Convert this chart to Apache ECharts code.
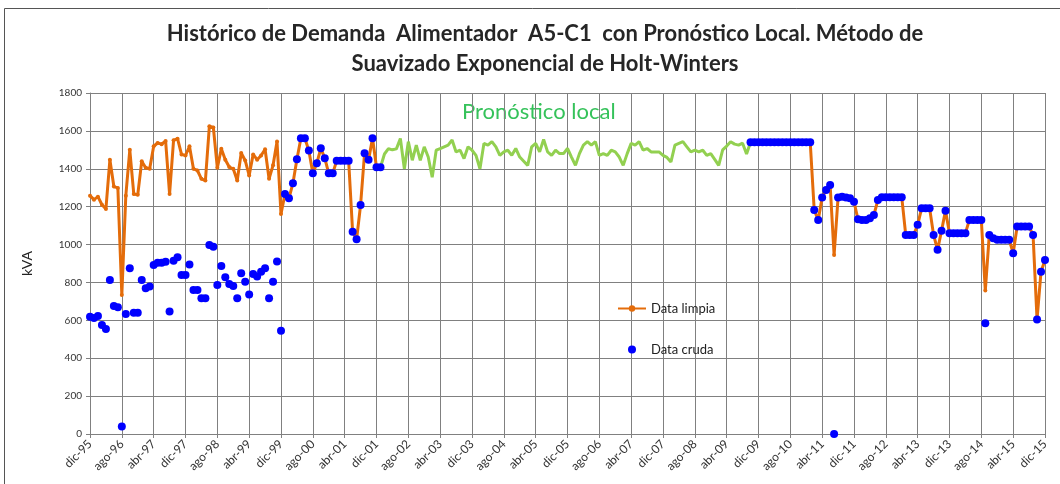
<!DOCTYPE html>
<html>
<head>
<meta charset="utf-8">
<title>Demanda Alimentador A5-C1</title>
<script src="https://cdn.jsdelivr.net/npm/echarts@6/dist/echarts.min.js"></script>
<style>
  html, body { margin: 0; padding: 0; background: #fff; }
  #main { width: 1060px; height: 484px; }
</style>
</head>
<body>
<div id="main"></div>
<script>
  // datos mensuales dic-95 .. dic-15 (kVA)
  var meses = ['ene', 'feb', 'mar', 'abr', 'may', 'jun', 'jul', 'ago', 'sep', 'oct', 'nov', 'dic'];

  // data limpia dic-95 .. dic-01 (indices 0..73)
  var limpiaA = [1258, 1237, 1253, 1210, 1188, 1448, 1306, 1299, 734, 1258, 1500, 1267, 1263, 1440, 1405, 1400,
    1519, 1536, 1530, 1547, 1267, 1550, 1559, 1476, 1470, 1519, 1400, 1391, 1347, 1338, 1625, 1618,
    1405, 1506, 1448, 1409, 1400, 1338, 1483, 1444, 1365, 1476, 1448, 1470, 1503, 1347, 1418, 1544,
    1161, 1267, 1244, 1324, 1450, 1561, 1561, 1496, 1376, 1429, 1508, 1456, 1376, 1376, 1443, 1443,
    1443, 1443, 1068, 1028, 1209, 1482, 1447, 1561, 1408, 1408];

  // data cruda dic-95 .. dic-01 (indices 0..73)
  var crudaA = [619, 612, 623, 575, 554, 813, 676, 669, 39, 634, 875, 640, 640, 813, 769, 778,
    892, 904, 904, 909, 646, 915, 933, 839, 839, 895, 760, 760, 716, 716, 998, 989,
    787, 887, 827, 792, 781, 716, 848, 804, 737, 845, 831, 857, 875, 716, 804, 910,
    545, 1267, 1244, 1324, 1450, 1561, 1561, 1496, 1376, 1429, 1508, 1456, 1376, 1376, 1443, 1443,
    1443, 1443, 1068, 1028, 1209, 1482, 1447, 1561, 1408, 1408];

  // pronostico local Holt-Winters (indices 73..166)
  var pronostico = [1408, 1478, 1506, 1500, 1505, 1560, 1400, 1543, 1445, 1525, 1445, 1516, 1462,
    1355, 1498, 1507, 1516, 1525, 1552, 1489, 1498, 1454, 1516, 1498, 1471,
    1400, 1534, 1525, 1543, 1516, 1471, 1489, 1498, 1471, 1507, 1462, 1440,
    1418, 1516, 1534, 1489, 1555, 1489, 1471, 1498, 1480, 1480, 1507, 1462,
    1418, 1480, 1525, 1543, 1525, 1543, 1471, 1480, 1471, 1498, 1489, 1462,
    1418, 1480, 1534, 1525, 1543, 1498, 1507, 1489, 1489, 1489, 1471, 1460,
    1436, 1525, 1534, 1543, 1516, 1489, 1498, 1489, 1498, 1471, 1480, 1450,
    1418, 1500, 1520, 1543, 1530, 1525, 1535, 1478, 1540];

  // data limpia dic-09 .. dic-15 (indices 166..240)
  var limpiaB = [1540, 1540, 1540, 1540, 1540, 1540, 1540, 1540, 1540, 1540, 1540, 1540, 1540, 1540, 1540, 1540,
    1183, 1130, 1249, 1288, 1315, 945, 1249, 1253, 1249, 1244, 1226, 1133, 1130, 1130, 1139, 1156, 1235,
    1250, 1250, 1250, 1250, 1250, 1250, 1051, 1051, 1051, 1104, 1192, 1192, 1192, 1051, 972, 1073, 1179,
    1060, 1060, 1060, 1060, 1060, 1130, 1130, 1130, 1130, 757, 1051, 1033, 1026, 1026, 1026, 1026,
    954, 1095, 1095, 1095, 1095, 1051, 605, 857, 919];

  // data cruda dic-09 .. dic-15 (indices 166..240)
  var crudaB = [1540, 1540, 1540, 1540, 1540, 1540, 1540, 1540, 1540, 1540, 1540, 1540, 1540, 1540, 1540, 1540,
    1183, 1130, 1249, 1288, 1315, 0, 1249, 1253, 1249, 1244, 1226, 1133, 1130, 1130, 1139, 1156, 1235,
    1250, 1250, 1250, 1250, 1250, 1250, 1051, 1051, 1051, 1104, 1192, 1192, 1192, 1051, 972, 1073, 1179,
    1060, 1060, 1060, 1060, 1060, 1130, 1130, 1130, 1130, 584, 1051, 1033, 1026, 1026, 1026, 1026,
    954, 1095, 1095, 1095, 1095, 1051, 605, 857, 919];

  var fechas = [];
  for (var k = 0; k <= 240; k++) {
    var anio = (95 + Math.floor((11 + k) / 12)) % 100;
    fechas.push(meses[(11 + k) % 12] + '-' + (anio < 10 ? '0' + anio : anio));
  }

  // armar series completas con huecos
  var limpia = [], cruda = [], pron = [];
  for (var i = 0; i < fechas.length; i++) {
    if (i < limpiaA.length) {
      limpia.push(limpiaA[i]);
      cruda.push(crudaA[i]);
    } else if (i >= 166) {
      limpia.push(limpiaB[i - 166]);
      cruda.push(crudaB[i - 166]);
    } else {
      limpia.push(null);
      cruda.push('-');
    }
    pron.push(i >= 73 && i <= 166 ? pronostico[i - 73] : null);
  }

  var fuente = 'Lato, "Open Sans", sans-serif';
  var myChart = echarts.init(document.getElementById('main'));
  var option = {
    animation: false,
    title: {
      text: 'Histórico de Demanda  Alimentador  A5-C1  con Pronóstico Local. Método de\nSuavizado Exponencial de Holt-Winters',
      left: 540,
      top: 14,
      textAlign: 'center',
      textStyle: {
        fontFamily: fuente,
        fontSize: 22,
        fontWeight: 'bold',
        color: '#262626',
        lineHeight: 30
      }
    },
    graphic: [{
      type: 'rect',
      shape: { x: 4.5, y: 8.5, width: 1070, height: 490 },
      style: { fill: null, stroke: '#555', lineWidth: 1 },
      silent: true
    }, {
      type: 'text',
      left: 462,
      top: 101,
      style: {
        text: 'Pronóstico local',
        fontFamily: fuente,
        fontSize: 22,
        fill: '#35c25a'
      }
    }],
    legend: {
      orient: 'vertical',
      left: 612,
      top: 297,
      itemWidth: 28,
      itemHeight: 8,
      itemGap: 28,
      data: ['Data limpia', 'Data cruda'],
      textStyle: { fontFamily: fuente, fontSize: 13, color: '#222' }
    },
    grid: {
      left: 90,
      right: 15,
      top: 93,
      bottom: 50,
      containLabel: false
    },
    xAxis: {
      type: 'category',
      data: fechas,
      boundaryGap: false,
      axisLine: { lineStyle: { color: '#808080' } },
      axisTick: { interval: 7, length: 4, lineStyle: { color: '#808080' } },
      axisLabel: {
        interval: 7,
        rotate: 45,
        margin: 8,
        fontFamily: fuente,
        fontSize: 12,
        color: '#333'
      },
      splitLine: { show: true, interval: 7, lineStyle: { color: '#808080', width: 1 } }
    },
    yAxis: {
      type: 'value',
      name: 'kVA',
      nameLocation: 'middle',
      nameGap: 56,
      nameTextStyle: { fontFamily: fuente, fontSize: 14, color: '#222' },
      min: 0,
      max: 1800,
      interval: 200,
      axisLine: { show: true, lineStyle: { color: '#808080' } },
      axisTick: { show: true, length: 4, lineStyle: { color: '#808080' } },
      axisLabel: {
        fontFamily: fuente,
        fontSize: 10,
        color: '#333',
        margin: 8,
        formatter: function (v) { return String(v); }
      },
      splitLine: { lineStyle: { color: '#808080', width: 1 } }
    },
    series: [{
      name: 'Pronóstico local',
      type: 'line',
      data: pron,
      symbol: 'none',
      lineStyle: { color: '#92d050', width: 3 },
      itemStyle: { color: '#92d050' },
      z: 2
    }, {
      name: 'Data limpia',
      type: 'line',
      data: limpia,
      symbol: 'circle',
      symbolSize: 4,
      showAllSymbol: true,
      lineStyle: { color: '#e46c0a', width: 3 },
      itemStyle: { color: '#e46c0a' },
      z: 3
    }, {
      name: 'Data cruda',
      type: 'scatter',
      data: cruda,
      symbol: 'circle',
      symbolSize: 8,
      itemStyle: { color: '#0000ff', opacity: 1 },
      z: 4
    }]
  };
  myChart.setOption(option);
</script>
</body>
</html>
